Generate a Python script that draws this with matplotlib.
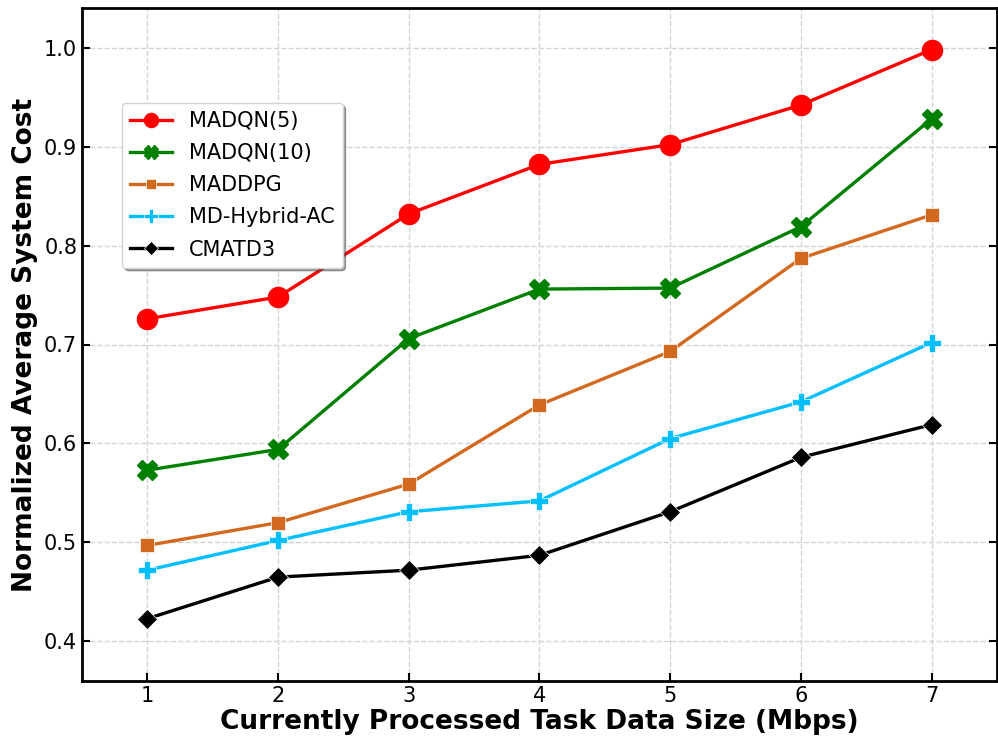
import matplotlib
matplotlib.use("Agg")
import matplotlib.pyplot as plt

# Data
data_size = [1, 2, 3, 4, 5, 6, 7]
madqn5 = [0.726, 0.748, 0.832, 0.882, 0.902, 0.942, 0.998]
madqn10 = [0.573, 0.594, 0.706, 0.756, 0.757, 0.819, 0.928]
maddpg = [0.497, 0.520, 0.559, 0.639, 0.693, 0.787, 0.831]
md_hybrid_ac = [0.472, 0.502, 0.531, 0.542, 0.605, 0.642, 0.702]
cmatd3 = [0.423, 0.465, 0.472, 0.487, 0.531, 0.586, 0.619]

y_ticks = [0.4, 0.5, 0.6, 0.7, 0.8, 0.9, 1.0]

fig = plt.figure(figsize=(9.98, 7.41), dpi=100)
ax = fig.add_axes([82 / 998, 1 - 681 / 741, (997 - 82) / 998, (681 - 8) / 741])

lw = 2.4
ax.plot(data_size, madqn5, color="red", marker="o", markersize=14.5, lw=lw, label="MADQN(5)")
ax.plot(data_size, madqn10, color="green", marker="X", markersize=14, lw=lw, label="MADQN(10)")
ax.plot(data_size, maddpg, color="#D2691E", marker="s", markersize=10.5, lw=lw,
        markeredgecolor="white", markeredgewidth=0.5, label="MADDPG")
ax.plot(data_size, md_hybrid_ac, color="#00BFFF", marker="P", markersize=13.5, lw=lw,
        markeredgecolor="white", markeredgewidth=0.5, label="MD-Hybrid-AC")
ax.plot(data_size, cmatd3, color="black", marker="D", markersize=10.5, lw=lw,
        markeredgecolor="white", markeredgewidth=0.5, label="CMATD3")

ax.set_xlim(0.5, 7.5)
ax.set_ylim(0.36, 1.04)
ax.set_xticks(data_size)
ax.set_yticks(y_ticks)
ax.set_yticklabels([f"{v:.1f}" for v in y_ticks], fontsize=15)
ax.set_xticklabels([str(v) for v in data_size], fontsize=15)

ax.tick_params(direction="in", length=6, width=1.5, right=True)
ax.grid(True, linestyle="--", color="lightgray", linewidth=1)
for s in ax.spines.values():
    s.set_linewidth(2)

ax.set_xlabel("Currently Processed Task Data Size (Mbps)", fontsize=19,
              fontweight="bold", labelpad=2)
ax.set_ylabel("Normalized Average System Cost", fontsize=19, fontweight="bold", labelpad=4)

ax.legend(loc="upper left", bbox_to_anchor=(0.0437, 0.859), borderaxespad=0,
          fontsize=15, labelspacing=0.58, markerscale=0.7, shadow=True, fancybox=True,
          framealpha=1, edgecolor="lightgray")

fig.savefig("out.png", dpi=100)
